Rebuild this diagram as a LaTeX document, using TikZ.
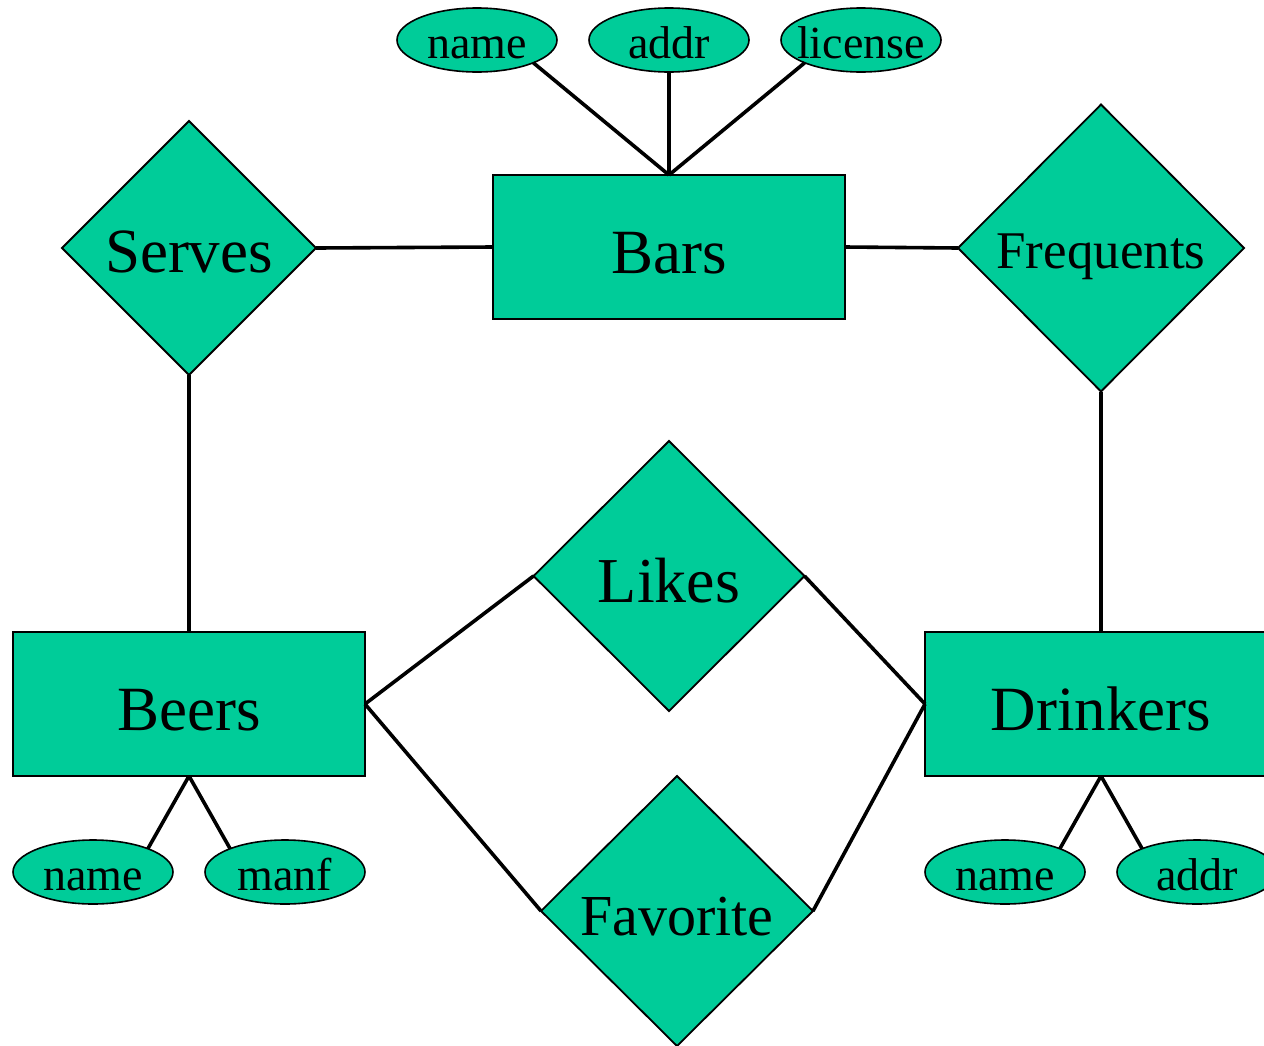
\documentclass[tikz,border=0pt]{standalone}
\usepackage{fontspec}
\setmainfont{Liberation Serif}
\usetikzlibrary{shapes.geometric}
\definecolor{erfill}{RGB}{0,204,153}
\begin{document}
\begin{tikzpicture}[x=1pt,y=-1pt,
  entity/.style={draw, fill=erfill, line width=2pt, rectangle,
    minimum width=352pt, minimum height=144pt, inner sep=0pt, outer sep=0pt,
    font=\fontsize{63}{63}\selectfont, text height=52pt, text depth=0pt},
  relship/.style={draw, fill=erfill, line width=1.8pt, diamond, aspect=1,
    inner sep=0pt, outer sep=0pt, text depth=0pt},
  attrib/.style={draw, fill=erfill, line width=1.6pt, ellipse,
    minimum width=160pt, minimum height=64pt, inner sep=0pt, outer sep=0pt,
    font=\fontsize{46}{46}\selectfont, text height=36pt, text depth=0pt},
  link/.style={line width=3.6pt}]
\useasboundingbox (0,0) rectangle (1264,1045);

% entity sets
\node[entity] (bars) at (669,247) {Bars};
\node[entity] (beers) at (189,704) {Beers};
\node[entity] (drinkers) at (1101,704) {Drinkers};

% relationships
\node[relship, minimum width=254pt, minimum height=254pt,
  font=\fontsize{63}{63}\selectfont, text height=48pt] (serves) at (189,248) {Serves};
\node[relship, minimum width=286pt, minimum height=287pt,
  font=\fontsize{53}{53}\selectfont, text height=40pt] (frequents) at (1101,248) {Frequents};
\node[relship, minimum width=271pt, minimum height=270pt,
  font=\fontsize{64}{64}\selectfont, text height=52pt] (likes) at (669,576) {Likes};
\node[relship, minimum width=272pt, minimum height=270pt,
  font=\fontsize{58}{58}\selectfont, text height=48pt] (favorite) at (677,911) {Favorite};

% attributes
\node[attrib] (barname) at (477,40) {\makebox[0pt]{name}};
\node[attrib] (baraddr) at (669,40) {\makebox[0pt]{addr}};
\node[attrib] (barlicense) at (861,40) {\makebox[0pt]{license}};
\node[attrib] (beername) at (93,872) {\makebox[0pt]{name}};
\node[attrib] (beermanf) at (285,872) {\makebox[0pt]{manf}};
\node[attrib] (drinkername) at (1005,872) {\makebox[0pt]{name}};
\node[attrib] (drinkeraddr) at (1197,872) {\makebox[0pt]{addr}};

% connectors
\draw[link] (barname.-22) -- (bars.north);
\draw[link] (baraddr.south) -- (bars.north);
\draw[link] (barlicense.202) -- (bars.north);
\draw[link] (serves.east) -- (bars.west);
\draw[link] (bars.east) -- (frequents.west);
\draw[link] (serves.south) -- (beers.north);
\draw[link] (frequents.south) -- (drinkers.north);
\draw[link] (beers.east) -- (likes.west);
\draw[link] (beers.east) -- (favorite.west);
\draw[link] (likes.east) -- (drinkers.west);
\draw[link] (favorite.east) -- (drinkers.west);
\draw[link] (beers.south) -- (beername.23);
\draw[link] (beers.south) -- (beermanf.157);
\draw[link] (drinkers.south) -- (drinkername.23);
\draw[link] (drinkers.south) -- (drinkeraddr.157);
\end{tikzpicture}
\end{document}
